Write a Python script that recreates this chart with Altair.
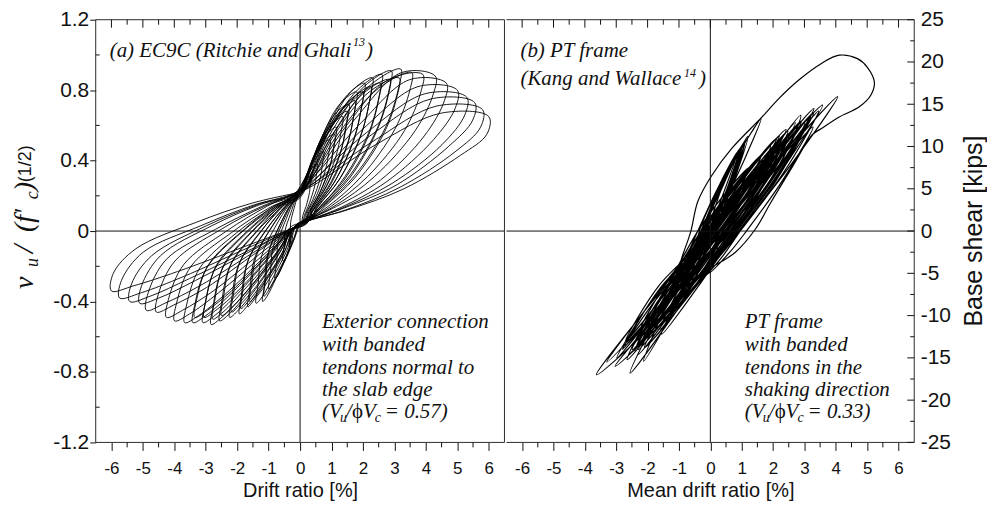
import altair as alt
import pandas as pd

# ---------------- axis values ----------------
X_MAJOR = [-6, -5, -4, -3, -2, -1, 0, 1, 2, 3, 4, 5, 6]
X_MINOR = [-5.5, -4.5, -3.5, -2.5, -1.5, -0.5, 0.5, 1.5, 2.5, 3.5, 4.5, 5.5]
VU_MAJOR = [-1.2, -0.8, -0.4, 0.0, 0.4, 0.8, 1.2]
VU_MINOR = [-1.0, -0.6, -0.2, 0.2, 0.6, 1.0]
KIPS_MAJOR = [-25, -20, -15, -10, -5, 0, 5, 10, 15, 20, 25]
KIPS_MINOR = [-22.5, -17.5, -12.5, -7.5, -2.5, 2.5, 7.5, 12.5, 17.5, 22.5]

# ---------------- (a) EC9C: drift ratio [%] vs v_u/sqrt(f'c), one list per cycle ----------------
EC9C_DRIFT = [
    [0.00, 0.12, 0.25, 0.35, 0.31, 0.30, 0.19, 0.09, 0.05, -0.05, -0.11, -0.23, -0.31, -0.35, -0.31, -0.30, -0.19, -0.09],
    [0.02, 0.19, 0.39, 0.55, 0.51, 0.47, 0.30, 0.14, 0.08, -0.08, -0.17, -0.36, -0.48, -0.55, -0.50, -0.48, -0.30, -0.14],
    [-0.03, 0.26, 0.53, 0.75, 0.71, 0.64, 0.41, 0.19, 0.12, -0.10, -0.24, -0.52, -0.70, -0.80, -0.74, -0.70, -0.44, -0.20],
    [0.04, 0.33, 0.67, 0.95, 0.89, 0.81, 0.52, 0.24, 0.18, -0.15, -0.30, -0.65, -0.88, -1.00, -0.94, -0.87, -0.55, -0.25],
    [0.00, 0.40, 0.81, 1.15, 1.09, 0.98, 0.63, 0.29, 0.10, -0.20, -0.36, -0.77, -1.05, -1.19, -1.13, -1.04, -0.65, -0.30],
    [0.05, 0.39, 0.77, 1.10, 1.04, 0.94, 0.61, 0.28, 0.20, -0.25, -0.35, -0.75, -1.01, -1.15, -1.09, -1.00, -0.63, -0.29],
    [-0.04, 0.47, 0.95, 1.35, 1.29, 1.15, 0.74, 0.34, 0.30, -0.12, -0.42, -0.91, -1.23, -1.40, -1.34, -1.22, -0.77, -0.35],
    [0.00, 0.54, 1.09, 1.55, 1.49, 1.32, 0.85, 0.39, 0.10, -0.20, -0.50, -1.08, -1.46, -1.66, -1.60, -1.44, -0.91, -0.42],
    [-0.05, 0.53, 1.05, 1.50, 1.44, 1.28, 0.83, 0.38, 0.30, -0.15, -0.48, -1.04, -1.41, -1.60, -1.54, -1.39, -0.88, -0.40],
    [0.03, 0.63, 1.26, 1.80, 1.74, 1.53, 0.99, 0.45, 0.20, -0.30, -0.58, -1.25, -1.70, -1.93, -1.87, -1.68, -1.06, -0.48],
    [0.08, 0.61, 1.23, 1.75, 1.69, 1.49, 0.96, 0.44, 0.15, -0.30, -0.56, -1.22, -1.65, -1.88, -1.82, -1.64, -1.03, -0.47],
    [0.00, 0.72, 1.44, 2.05, 1.99, 1.74, 1.13, 0.51, 0.10, -0.20, -0.67, -1.46, -1.97, -2.24, -2.18, -1.95, -1.23, -0.56],
    [0.00, 0.70, 1.40, 2.00, 1.94, 1.70, 1.10, 0.50, 0.40, -0.10, -0.65, -1.42, -1.92, -2.18, -2.12, -1.90, -1.20, -0.55],
    [-0.06, 0.81, 1.61, 2.30, 2.24, 1.96, 1.27, 0.58, 0.22, -0.25, -0.77, -1.66, -2.25, -2.56, -2.50, -2.23, -1.41, -0.64],
    [-0.08, 0.79, 1.58, 2.25, 2.19, 1.91, 1.24, 0.56, 0.25, -0.20, -0.75, -1.63, -2.20, -2.50, -2.44, -2.18, -1.38, -0.63],
    [0.04, 0.91, 1.82, 2.60, 2.54, 2.21, 1.43, 0.65, 0.10, -0.20, -0.85, -1.84, -2.49, -2.83, -2.77, -2.46, -1.56, -0.71],
    [0.05, 0.89, 1.79, 2.55, 2.49, 2.17, 1.40, 0.64, 0.35, -0.15, -0.83, -1.81, -2.45, -2.78, -2.72, -2.42, -1.53, -0.70],
    [0.00, 1.02, 2.03, 2.90, 2.84, 2.47, 1.60, 0.73, 0.10, -0.20, -0.93, -2.01, -2.72, -3.09, -3.03, -2.69, -1.70, -0.77],
    [0.00, 1.00, 2.00, 2.85, 2.79, 2.42, 1.57, 0.71, 0.20, -0.25, -0.92, -1.98, -2.68, -3.05, -2.99, -2.65, -1.68, -0.76],
    [-0.03, 1.12, 2.24, 3.20, 3.14, 2.72, 1.76, 0.80, 0.10, -0.20, -1.02, -2.22, -3.00, -3.41, -3.35, -2.97, -1.88, -0.85],
    [0.06, 1.10, 2.20, 3.15, 3.09, 2.68, 1.73, 0.79, 0.30, -0.20, -1.00, -2.18, -2.95, -3.35, -3.29, -2.91, -1.84, -0.84],
    [0.00, 1.24, 2.49, 3.55, 3.49, 3.02, 1.95, 0.89, 0.10, -0.20, -1.10, -2.39, -3.23, -3.67, -3.61, -3.19, -2.02, -0.92],
    [0.02, 1.48, 2.81, 3.90, 3.84, 3.32, 2.15, 0.98, 0.15, -0.20, -1.20, -2.59, -3.51, -3.99, -3.93, -3.47, -2.19, -1.00],
    [0.00, 1.72, 3.23, 4.30, 4.24, 3.66, 2.37, 1.08, 0.10, -0.20, -1.28, -2.76, -3.74, -4.25, -4.19, -3.70, -2.34, -1.06],
    [0.03, 1.86, 3.49, 4.65, 4.59, 3.95, 2.56, 1.16, 0.20, -0.20, -1.37, -2.97, -4.02, -4.57, -4.51, -3.98, -2.51, -1.14],
    [0.00, 2.00, 3.75, 5.00, 4.94, 4.25, 2.75, 1.25, 0.10, -0.20, -1.47, -3.18, -4.30, -4.89, -4.83, -4.25, -2.69, -1.22],
    [-0.02, 2.12, 3.98, 5.30, 5.24, 4.51, 2.92, 1.33, 0.15, -0.20, -1.53, -3.32, -4.49, -5.10, -5.04, -4.44, -2.81, -1.28],
    [0.00, 2.22, 4.16, 5.55, 5.49, 4.72, 3.05, 1.39, 0.10, -0.20, -1.63, -3.52, -4.77, -5.42, -5.36, -4.72, -2.98, -1.36],
    [0.02, 2.32, 4.35, 5.80, 5.74, 4.93, 3.19, 1.45, 0.12, -0.20, -1.72, -3.73, -5.05, -5.74, -5.68, -4.99, -3.16, -1.44],
    [0.00, 2.40, 4.50, 6.00, 5.94, 5.10, 3.30, 1.50, 0.10, -0.20, -1.80, -3.90, -5.28, -6.00, -5.94, -5.22, -3.30, -1.50, 0.00],
]
EC9C_SHEAR = [
    [0.22, 0.27, 0.30, 0.31, 0.24, 0.22, 0.14, 0.09, 0.05, 0.02, -0.01, -0.05, -0.07, -0.08, -0.02, 0.05, 0.13, 0.19],
    [0.23, 0.30, 0.36, 0.38, 0.31, 0.26, 0.16, 0.09, 0.05, 0.02, -0.04, -0.11, -0.16, -0.17, -0.08, 0.00, 0.10, 0.18],
    [0.21, 0.34, 0.42, 0.45, 0.38, 0.30, 0.18, 0.10, 0.06, 0.01, -0.07, -0.18, -0.25, -0.27, -0.17, -0.06, 0.07, 0.17],
    [0.24, 0.37, 0.48, 0.52, 0.42, 0.35, 0.20, 0.11, 0.07, 0.03, -0.09, -0.23, -0.30, -0.33, -0.23, -0.10, 0.05, 0.16],
    [0.22, 0.41, 0.54, 0.59, 0.49, 0.39, 0.22, 0.11, 0.05, 0.02, -0.11, -0.27, -0.37, -0.40, -0.30, -0.14, 0.03, 0.15],
    [0.21, 0.39, 0.51, 0.55, 0.45, 0.36, 0.21, 0.11, 0.06, 0.01, -0.10, -0.25, -0.34, -0.37, -0.27, -0.12, 0.04, 0.15],
    [0.20, 0.44, 0.59, 0.65, 0.55, 0.43, 0.24, 0.12, 0.08, 0.03, -0.11, -0.28, -0.38, -0.41, -0.31, -0.14, 0.03, 0.15],
    [0.22, 0.47, 0.66, 0.72, 0.62, 0.47, 0.26, 0.13, 0.05, 0.02, -0.12, -0.30, -0.39, -0.43, -0.33, -0.15, 0.02, 0.14],
    [0.20, 0.45, 0.62, 0.68, 0.58, 0.44, 0.25, 0.12, 0.07, 0.03, -0.11, -0.27, -0.37, -0.40, -0.30, -0.14, 0.03, 0.15],
    [0.23, 0.51, 0.72, 0.79, 0.69, 0.51, 0.28, 0.13, 0.04, 0.00, -0.13, -0.32, -0.43, -0.47, -0.37, -0.18, 0.01, 0.14],
    [0.24, 0.50, 0.67, 0.74, 0.64, 0.48, 0.26, 0.13, 0.04, 0.00, -0.12, -0.30, -0.40, -0.44, -0.34, -0.16, 0.02, 0.14],
    [0.22, 0.53, 0.76, 0.84, 0.74, 0.54, 0.29, 0.14, 0.05, 0.02, -0.13, -0.34, -0.45, -0.49, -0.39, -0.19, 0.00, 0.14],
    [0.19, 0.49, 0.71, 0.79, 0.69, 0.51, 0.28, 0.13, 0.08, 0.04, -0.12, -0.32, -0.42, -0.46, -0.36, -0.17, 0.01, 0.14],
    [0.23, 0.55, 0.79, 0.87, 0.77, 0.56, 0.30, 0.14, 0.05, 0.01, -0.14, -0.35, -0.47, -0.51, -0.41, -0.20, -0.01, 0.13],
    [0.23, 0.53, 0.74, 0.82, 0.72, 0.53, 0.29, 0.14, 0.05, 0.01, -0.13, -0.33, -0.44, -0.48, -0.38, -0.18, 0.00, 0.14],
    [0.21, 0.56, 0.80, 0.89, 0.79, 0.57, 0.31, 0.14, 0.05, 0.02, -0.15, -0.37, -0.49, -0.53, -0.43, -0.21, -0.01, 0.13],
    [0.25, 0.56, 0.76, 0.84, 0.74, 0.54, 0.29, 0.14, 0.07, 0.02, -0.14, -0.34, -0.46, -0.50, -0.40, -0.19, 0.00, 0.14],
    [0.22, 0.57, 0.82, 0.91, 0.81, 0.59, 0.32, 0.15, 0.05, 0.02, -0.14, -0.36, -0.48, -0.52, -0.42, -0.21, -0.01, 0.13],
    [0.21, 0.54, 0.78, 0.86, 0.76, 0.56, 0.30, 0.14, 0.05, 0.03, -0.13, -0.34, -0.45, -0.49, -0.39, -0.19, 0.00, 0.14],
    [0.23, 0.57, 0.83, 0.92, 0.82, 0.59, 0.32, 0.15, 0.05, 0.02, -0.14, -0.36, -0.48, -0.52, -0.42, -0.21, -0.01, 0.13],
    [0.22, 0.55, 0.79, 0.87, 0.77, 0.56, 0.30, 0.14, 0.06, 0.02, -0.13, -0.34, -0.45, -0.49, -0.39, -0.19, 0.00, 0.14],
    [0.22, 0.56, 0.81, 0.90, 0.80, 0.58, 0.31, 0.14, 0.05, 0.02, -0.14, -0.36, -0.48, -0.52, -0.42, -0.21, -0.01, 0.13],
    [0.23, 0.60, 0.86, 0.89, 0.79, 0.57, 0.31, 0.14, 0.05, 0.02, -0.14, -0.35, -0.47, -0.51, -0.41, -0.20, -0.01, 0.13],
    [0.22, 0.63, 0.90, 0.88, 0.78, 0.57, 0.31, 0.14, 0.05, 0.02, -0.13, -0.34, -0.45, -0.49, -0.39, -0.19, 0.00, 0.14],
    [0.24, 0.60, 0.86, 0.84, 0.74, 0.54, 0.29, 0.14, 0.06, 0.02, -0.12, -0.32, -0.42, -0.46, -0.36, -0.17, 0.01, 0.14],
    [0.22, 0.58, 0.82, 0.80, 0.70, 0.52, 0.28, 0.13, 0.05, 0.02, -0.12, -0.31, -0.41, -0.45, -0.35, -0.16, 0.01, 0.14],
    [0.23, 0.56, 0.78, 0.76, 0.66, 0.49, 0.27, 0.13, 0.05, 0.02, -0.11, -0.28, -0.38, -0.41, -0.31, -0.14, 0.03, 0.15],
    [0.22, 0.54, 0.75, 0.73, 0.63, 0.48, 0.26, 0.13, 0.05, 0.02, -0.11, -0.27, -0.37, -0.40, -0.30, -0.14, 0.03, 0.15],
    [0.23, 0.51, 0.71, 0.69, 0.59, 0.45, 0.25, 0.12, 0.05, 0.02, -0.10, -0.26, -0.35, -0.38, -0.28, -0.12, 0.03, 0.15],
    [0.22, 0.49, 0.67, 0.65, 0.55, 0.43, 0.24, 0.12, 0.05, 0.02, -0.09, -0.23, -0.31, -0.34, -0.24, -0.10, 0.05, 0.16, 0.22],
]

# ---------------- (b) PT frame: mean drift ratio [%] vs base shear [kips] ----------------
PT_DRIFT = [
    [0.00, 0.38, 0.92, 0.68, 0.30, -0.08, -0.62, -0.38],
    [0.10, 0.77, 1.65, 1.17, 0.50, -0.13, -0.95, -0.53],
    [0.30, 1.07, 2.04, 1.47, 0.70, -0.17, -1.23, -0.57],
    [-0.35, 0.25, 0.95, 0.55, 0.00, -0.45, -0.80, -0.62],
    [-0.05, 0.82, 1.93, 1.32, 0.45, -0.37, -1.43, -0.87],
    [-0.25, 0.22, 0.90, 0.52, -0.02, -0.50, -0.95, -0.70],
    [-0.15, 0.72, 1.73, 1.12, 0.35, -0.71, -1.92, -1.11],
    [0.05, 1.06, 2.37, 1.66, 0.65, -0.36, -1.67, -0.96],
    [0.00, 0.90, 1.95, 1.25, 0.30, -0.75, -2.00, -1.10],
    [-0.25, 0.35, 1.05, 0.65, 0.10, -0.35, -0.95, -0.70],
    [-0.20, 0.76, 1.92, 1.16, 0.20, -0.91, -2.21, -1.31],
    [0.25, 1.22, 2.30, 1.62, 0.55, -0.45, -1.60, -0.85],
    [0.10, 1.01, 2.13, 1.41, 0.50, -0.56, -1.82, -0.96],
    [-0.25, 0.30, 0.95, 0.60, 0.05, -0.55, -1.10, -0.80],
    [0.45, 1.56, 2.91, 2.06, 0.95, 0.28, -0.65, -0.22],
    [-0.15, 1.00, 2.41, 1.50, 0.35, -0.82, -2.25, -1.32],
    [-0.40, 0.32, 1.24, 0.72, 0.00, -1.25, -2.70, -1.65],
    [0.10, 1.10, 2.25, 1.50, 0.40, -0.80, -2.30, -1.25],
    [-0.20, 0.86, 2.12, 1.26, 0.20, -0.90, -2.13, -1.30],
    [-0.40, 0.20, 0.85, 0.45, -0.05, -0.60, -1.20, -0.90],
    [0.05, 1.09, 2.38, 1.59, 0.55, -0.68, -2.16, -1.18],
    [-0.25, 0.55, 1.55, 0.95, 0.05, -1.05, -2.35, -1.40],
    [-0.30, 0.28, 1.05, 0.68, 0.10, -1.20, -2.70, -1.60],
    [0.15, 1.40, 2.90, 1.90, 0.65, -0.55, -2.00, -1.05],
    [-0.30, 0.30, 1.00, 0.60, 0.05, -0.50, -1.00, -0.75],
    [0.35, 1.50, 2.75, 1.90, 0.65, -0.70, -2.30, -1.20],
    [0.15, 1.35, 2.80, 1.85, 0.65, -0.80, -2.60, -1.30],
    [-0.10, 0.95, 2.20, 1.35, 0.30, -0.95, -2.40, -1.35],
    [-0.05, 1.08, 2.47, 1.58, 0.45, -0.90, -2.49, -1.40],
    [-0.15, 0.45, 1.20, 0.75, 0.20, -0.40, -0.90, -0.65],
    [0.35, 1.70, 3.29, 2.20, 0.85, -0.11, -1.32, -0.61],
    [0.20, 1.25, 2.50, 1.70, 0.55, -0.60, -1.95, -1.00],
    [0.15, 1.47, 2.88, 2.07, 0.75, -0.87, -2.56, -1.47],
    [-0.30, 0.57, 1.63, 0.97, 0.10, -1.34, -2.98, -1.74],
    [-0.05, 1.00, 2.25, 1.45, 0.30, -1.00, -2.65, -1.55],
    [0.30, 1.60, 3.20, 2.10, 0.80, -0.30, -1.55, -0.75],
    [0.50, 1.75, 3.10, 2.15, 0.80, -0.40, -1.85, -0.85],
    [0.65, 1.83, 3.27, 2.33, 1.15, 0.62, -0.06, 0.22],
    [0.20, 1.64, 3.30, 2.14, 0.75, -0.17, -1.23, -0.57],
    [-0.20, 0.40, 1.10, 0.70, 0.15, -0.45, -1.05, -0.80],
    [0.30, 1.53, 3.01, 2.03, 0.80, -0.53, -2.10, -1.03],
    [0.60, 1.90, 3.45, 2.35, 0.95, -0.20, -1.40, -0.60],
    [-0.30, 0.30, 0.80, 1.62, 1.15, 0.60, 0.15, -0.40, -0.90, -0.60],
    [0.00, 1.28, 2.71, 1.68, 0.50, -1.32, -3.30, -1.72],
    [0.30, 1.73, 3.58, 2.33, 0.90, -0.80, -3.04, -1.40],
    [-0.85, -0.62, -0.40, 0.05, 0.69, 1.65, 2.19, 2.83, 3.53, 4.11, 4.69, 5.00, 5.23, 5.12,
     4.75, 4.11, 3.53, 3.25, 2.60, 1.90, 1.45, 0.80, 0.00, -1.00, -2.00, -2.80, -1.60],
    [0.45, 2.10, 4.06, 2.60, 0.90, -1.10, -3.63, -1.90, -0.60],
]
PT_SHEAR = [
    [0, 2, 4, 2, 0, -2, -4, -2],
    [0, 3.5, 7, 3.5, 0, -3.25, -6.5, -3.25],
    [0, 4, 8, 4, 0, -4.5, -9, -4.5],
    [0, 5, 9.8, 5, 0.3, -2.5, -4.5, -2.5],
    [0, 4.5, 9, 4.5, 0, -4.25, -8.5, -4.25],
    [0, 4.9, 9.5, 4.9, 0.3, -3.2, -6.0, -3.2],
    [0, 4.25, 8.5, 4.25, 0, -5.25, -10.5, -5.25],
    [0, 5.25, 10.5, 5.25, 0, -5.25, -10.5, -5.25],
    [0, 4.8, 9.6, 4.8, 0, -6.2, -12.4, -6.2],
    [0, 5.5, 10.2, 5.5, 0.5, -3, -6, -3],
    [0, 5, 10, 5, 0, -5.75, -11.5, -5.75],
    [0, 5.2, 10.4, 5.2, 0, -5.8, -11.6, -5.8],
    [0, 4.75, 9.5, 4.75, 0, -5.5, -11, -5.5],
    [0, 5.0, 9.6, 5.0, 0.4, -3.8, -7.2, -3.8],
    [0, 5.75, 11.5, 5.75, 0, -3.5, -7, -3.5],
    [0, 6, 12, 6, 0, -6.1, -12.2, -6.1],
    [0, 3.75, 7.5, 3.75, 0, -6.5, -13, -6.5],
    [0, 5.2, 10.5, 5.2, 0, -7.3, -14.6, -7.3],
    [0, 5.5, 11, 5.5, 0, -7.7, -15.4, -7.7],
    [0, 4.8, 9.2, 4.8, 0.2, -3.5, -7, -3.5],
    [0, 5.4, 10.8, 5.4, 0, -6.4, -12.8, -6.4],
    [0, 4.2, 8.4, 4.2, 0, -6.8, -13.6, -6.8],
    [0, 3, 6, 3, 0, -6.75, -13.5, -6.75],
    [0, 6.5, 13, 6.5, 0, -6.25, -12.5, -6.25],
    [0, 5.2, 10.0, 5.2, 0.4, -3.5, -6.5, -3.5],
    [0, 6.0, 12.0, 6.0, 0, -7.0, -14.0, -7.0],
    [0, 6.25, 12.5, 6.25, 0, -7.25, -14.5, -7.25],
    [0, 5.6, 11.3, 5.6, 0, -7.1, -14.2, -7.1],
    [0, 5.9, 11.8, 5.9, 0, -7, -14, -7],
    [0, 5.9, 11.2, 5.9, 0.7, -3.0, -5.8, -3.0],
    [0, 7, 14, 7, 0, -5, -10, -5],
    [0, 5.5, 11.2, 5.5, 0, -6.0, -12.0, -6.0],
    [0, 6.85, 13.7, 6.85, 0, -8.4, -16.8, -8.4],
    [0, 4.5, 9, 4.5, 0, -7.5, -15, -7.5],
    [0, 5.4, 10.9, 5.4, 0, -7.6, -15.2, -7.6],
    [0, 6.75, 13.5, 6.75, 0, -6.1, -12.2, -6.1],
    [0, 6.5, 13.2, 6.5, 0, -6.0, -12.0, -6.0],
    [0, 6.15, 12.3, 6.15, 0, -2.5, -5, -2.5],
    [0, 7.25, 14.5, 7.25, 0, -4.5, -9, -4.5],
    [0, 5.6, 10.6, 5.6, 0.6, -3, -6, -3],
    [0, 6.4, 12.8, 6.4, 0, -6.9, -13.8, -6.9],
    [0, 7.0, 14.2, 7.0, 0, -5.2, -10.5, -5.2],
    [0, 4.5, 8.5, 13.3, 9, 4.5, 0.5, -3, -6, -3],
    [0, 6.4, 12.8, 6.4, 0, -7.75, -15.5, -7.75],
    [0, 7.45, 14.9, 7.45, 0, -8, -16, -8],
    [-2.5, 0.0, 3.5, 6.6, 9.8, 13.5, 15.7, 17.9, 19.8, 20.8, 20.4, 19.4, 17.6, 16.1,
     14.7, 13.5, 12.1, 11.4, 7.5, 3.2, 0.3, -2.5, -4.4, -6.8, -10.5, -14.0, -7.5],
    [0, 8, 15.9, 8, 0, -8.5, -17.0, -8.5, -2],
]


def trace(drift_cycles, shear_cycles):
    rows = []
    for xs, ys in zip(drift_cycles, shear_cycles):
        for x, y in zip(xs, ys):
            rows.append({"step": len(rows), "drift": x, "v": y})
    return pd.DataFrame(rows)


df_a = trace(EC9C_DRIFT, EC9C_SHEAR)
df_b = trace(PT_DRIFT, PT_SHEAR)
ONE = pd.DataFrame({"k": [0]})

INK = "#111111"
FRAME = "#2b2b2b"
SANS = "Liberation Sans"
SERIF = "Liberation Serif"
W_A, W_B, H = 410, 409, 424

SX = alt.Scale(domain=[-6.5, 6.5], nice=False, zero=False)
SYA = alt.Scale(domain=[-1.2, 1.2], nice=False, zero=False)
SYB = alt.Scale(domain=[-25, 25], nice=False, zero=False)

X_LABEL = "datum.value < 0 ? '-' + abs(datum.value) : '' + datum.value"
VU_LABEL = "datum.value == 0 ? '0' : (datum.value < 0 ? '-' : '') + format(abs(datum.value), '.1f')"
K_LABEL = "datum.value < 0 ? '-' + abs(datum.value) : '' + datum.value"


def x_axis(title):
    return alt.Axis(values=X_MAJOR, labelExpr=X_LABEL, tickSize=8, tickColor=INK, tickWidth=1,
                    labelPadding=10, labelFontSize=17, labelFont=SANS, labelColor=INK,
                    labelFlush=False, domain=False, grid=False, title=title, titleFont=SANS,
                    titleFontSize=20, titleFontWeight="normal", titleColor=INK, titlePadding=4)


AX_A = x_axis("Drift ratio [%]")
AX_B = x_axis("Mean drift ratio [%]")
AY_A = alt.Axis(values=VU_MAJOR, labelExpr=VU_LABEL, tickSize=6, tickColor=INK, tickWidth=1,
                labelPadding=1, labelFontSize=21, labelFont=SANS, labelColor=INK, labelFlush=False,
                domain=False, grid=False, title="")
AY_B = alt.Axis(orient="right", values=KIPS_MAJOR, labelExpr=K_LABEL, ticks=False, labelPadding=6,
                labelFontSize=21, labelFont=SANS, labelColor=INK, labelFlush=False, domain=False,
                grid=False, title="")


def x_ticks(values, y0, y1, ax):
    return alt.Chart(pd.DataFrame({"drift": values})).mark_rule(color=INK, strokeWidth=1).encode(
        x=alt.X("drift:Q", scale=SX, axis=ax), y=alt.value(y0), y2=alt.value(y1))


def y_ticks(values, scale, ax, x0, x1):
    return alt.Chart(pd.DataFrame({"v": values})).mark_rule(color=INK, strokeWidth=1).encode(
        y=alt.Y("v:Q", scale=scale, axis=ax), x=alt.value(x0), x2=alt.value(x1))


def txt(s, x, y, size=21, font=SERIF, style="italic", angle=0, align="left", baseline="alphabetic"):
    return alt.Chart(ONE).mark_text(text=s, font=font, fontSize=size, fontStyle=style, angle=angle,
                                    align=align, baseline=baseline, color=INK).encode(
        x=alt.value(x), y=alt.value(y))


def zero_lines(yscale, ax, ay):
    h = alt.Chart(pd.DataFrame({"v": [0]})).mark_rule(color=INK, strokeWidth=1).encode(
        y=alt.Y("v:Q", scale=yscale, axis=ay))
    v = alt.Chart(pd.DataFrame({"drift": [0]})).mark_rule(color=INK, strokeWidth=1).encode(
        x=alt.X("drift:Q", scale=SX, axis=ax))
    return [h, v]


def frame(w, left=True):
    edges = [
        alt.Chart(ONE).mark_rule(color=FRAME, strokeWidth=1).encode(
            x=alt.value(0), x2=alt.value(w), y=alt.value(0)),
        alt.Chart(ONE).mark_rule(color=FRAME, strokeWidth=1).encode(
            x=alt.value(0), x2=alt.value(w), y=alt.value(H)),
        alt.Chart(ONE).mark_rule(color=FRAME, strokeWidth=1).encode(
            x=alt.value(w), y=alt.value(0), y2=alt.value(H)),
    ]
    if left:
        edges.append(alt.Chart(ONE).mark_rule(color=FRAME, strokeWidth=1).encode(
            x=alt.value(0), y=alt.value(0), y2=alt.value(H)))
    return edges


def ratio_line(x0, y, value):
    # (V_u / phi V_c = value) built from pieces for the subscripts
    return [
        txt("(V", x0, y),
        txt("u", x0 + 18, y + 4, size=14),
        txt("/", x0 + 24, y),
        txt("\u03d5", x0 + 30, y, style="normal"),
        txt("V", x0 + 41, y),
        txt("c", x0 + 53, y + 4, size=14),
        txt("= " + value + ")", x0 + 63, y),
    ]


# ---------------- panel (a) ----------------
line_a = alt.Chart(df_a).mark_line(color="#000000", strokeWidth=0.9, clip=True,
                                   interpolate="catmull-rom").encode(
    x=alt.X("drift:Q", scale=SX, axis=AX_A),
    y=alt.Y("v:Q", scale=SYA, axis=AY_A),
    order="step:Q",
)

layers_a = [line_a] + zero_lines(SYA, AX_A, AY_A) + frame(W_A, left=True) + [
    x_ticks(X_MAJOR, 0, 8, AX_A), x_ticks(X_MINOR, 0, 5, AX_A), x_ticks(X_MINOR, H, H + 5, AX_A),
    y_ticks(VU_MINOR, SYA, AY_A, 0, 4),
    txt("(a) EC9C (Ritchie and Ghali", 14, 37),
    txt("13", 258, 26, size=12),
    txt(")", 271, 37),
    txt("Exterior connection", 227, 309),
    txt("with banded", 227, 332),
    txt("tendons normal to", 227, 355),
    txt("the slab edge", 227, 377),
] + ratio_line(227, 400, "0.57") + [
    # rotated y-axis title: v_u / (f'_c)^(1/2)
    txt("v", -63, 270, size=28, angle=270),
    txt("u", -58, 248, size=18, angle=270),
    txt("/", -63, 234, size=30, angle=270),
    txt("(f'", -63, 213, size=28, angle=270),
    txt("c", -58, 180, size=18, angle=270),
    txt(")", -63, 172, size=28, angle=270),
    txt("(1/2)", -65, 163, size=18, font=SANS, style="normal", angle=270),
]
panel_a = alt.layer(*layers_a).properties(width=W_A, height=H)

# ---------------- panel (b) ----------------
line_b = alt.Chart(df_b).mark_line(color="#000000", strokeWidth=1.2, clip=True,
                                   interpolate="catmull-rom").encode(
    x=alt.X("drift:Q", scale=SX, axis=AX_B),
    y=alt.Y("v:Q", scale=SYB, axis=AY_B),
    order="step:Q",
)

layers_b = [line_b] + zero_lines(SYB, AX_B, AY_B) + frame(W_B, left=False) + [
    x_ticks(X_MAJOR, 0, 8, AX_B), x_ticks(X_MINOR, 0, 5, AX_B), x_ticks(X_MINOR, H, H + 5, AX_B),
    y_ticks(KIPS_MAJOR, SYB, AY_B, W_B - 7, W_B), y_ticks(KIPS_MINOR, SYB, AY_B, W_B - 4, W_B),
    txt("(b) PT frame", 14, 37),
    txt("(Kang and Wallace", 14, 65),
    txt("14", 178, 57, size=12),
    txt(")", 193, 65),
    txt("PT frame", 239, 309),
    txt("with banded", 239, 332),
    txt("tendons in the", 239, 355),
    txt("shaking direction", 239, 377),
] + ratio_line(239, 400, "0.33") + [
    txt("Base shear [kips]", 469, 212, size=25, font=SANS, style="normal", angle=270,
        align="center", baseline="middle"),
]
panel_b = alt.layer(*layers_b).properties(width=W_B, height=H)

chart = alt.hconcat(panel_a, panel_b, spacing=0).properties(
    padding={"left": 9, "top": 8, "right": 0, "bottom": 2}
).configure_view(stroke="transparent", strokeWidth=0)

chart.save("out.html", embed_options={"renderer": "svg", "actions": False})
